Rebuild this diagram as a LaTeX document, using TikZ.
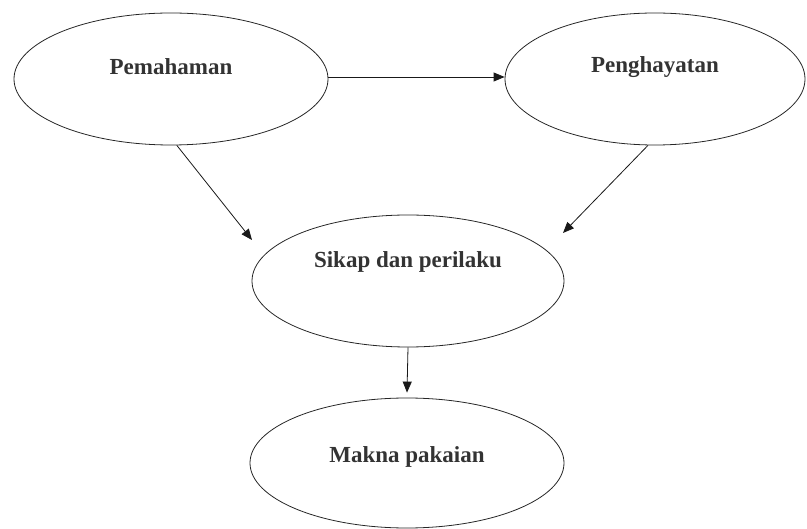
\documentclass[tikz,border=0pt]{standalone}
\usepackage{fontspec}
\setmainfont{Liberation Serif}
\usetikzlibrary{positioning,shapes.geometric,arrows.meta}

\begin{document}
\begin{tikzpicture}[x=1pt,y=-1pt]
    \useasboundingbox (0,0) rectangle (807,529);
    %%%%% THE ELLIPSES
    \begin{scope}[every node/.style={shape=ellipse,draw=black!85,line width=0.8pt,inner sep=0pt}]
      \node[minimum width=314pt,minimum height=132pt] (PEM) at (171,79) {};
      \node[minimum width=300pt,minimum height=132pt] (PENG) at (655,79) {};
      \node[minimum width=312pt,minimum height=132pt] (SIKAP) at (408,281) {};
      \node[minimum width=314pt,minimum height=130pt] (MAKNA) at (407,463) {};
    \end{scope}
    %%%%% THE TEXTS
    \begin{scope}[every node/.style={font=\bfseries\fontsize{23}{27}\selectfont,text=black!80}]
      \node (PEMtext) at ([yshift=12pt]PEM.center) {Pemahaman};
      \node (PENGtext) at ([yshift=12pt]PENG.center) {Penghayatan};
      \node (SIKAPtext) at ([yshift=19pt]SIKAP.center) {Sikap dan perilaku};
      \node (MAKNAtext) at ([yshift=6pt]MAKNA.center) {Makna pakaian};
    \end{scope}
    %%%% ARROWS BETWEEN THE ELLIPSES
    \coordinate (SIKAPleft) at (252,240);
    \coordinate (SIKAPright) at (563,233);
    \begin{scope}[-{Triangle[length=11pt,width=9pt]},line width=0.8pt,draw=black!90]
      \draw ([yshift=2pt]PEM.east) -- ([yshift=2pt]PENG.west);
      \draw (PEM.-85) -- (SIKAPleft);
      \draw (PENG.-96) -- (SIKAPright);
      \draw (SIKAP.south) -- ([yshift=5pt]MAKNA.north);
    \end{scope}
\end{tikzpicture}
\end{document}
